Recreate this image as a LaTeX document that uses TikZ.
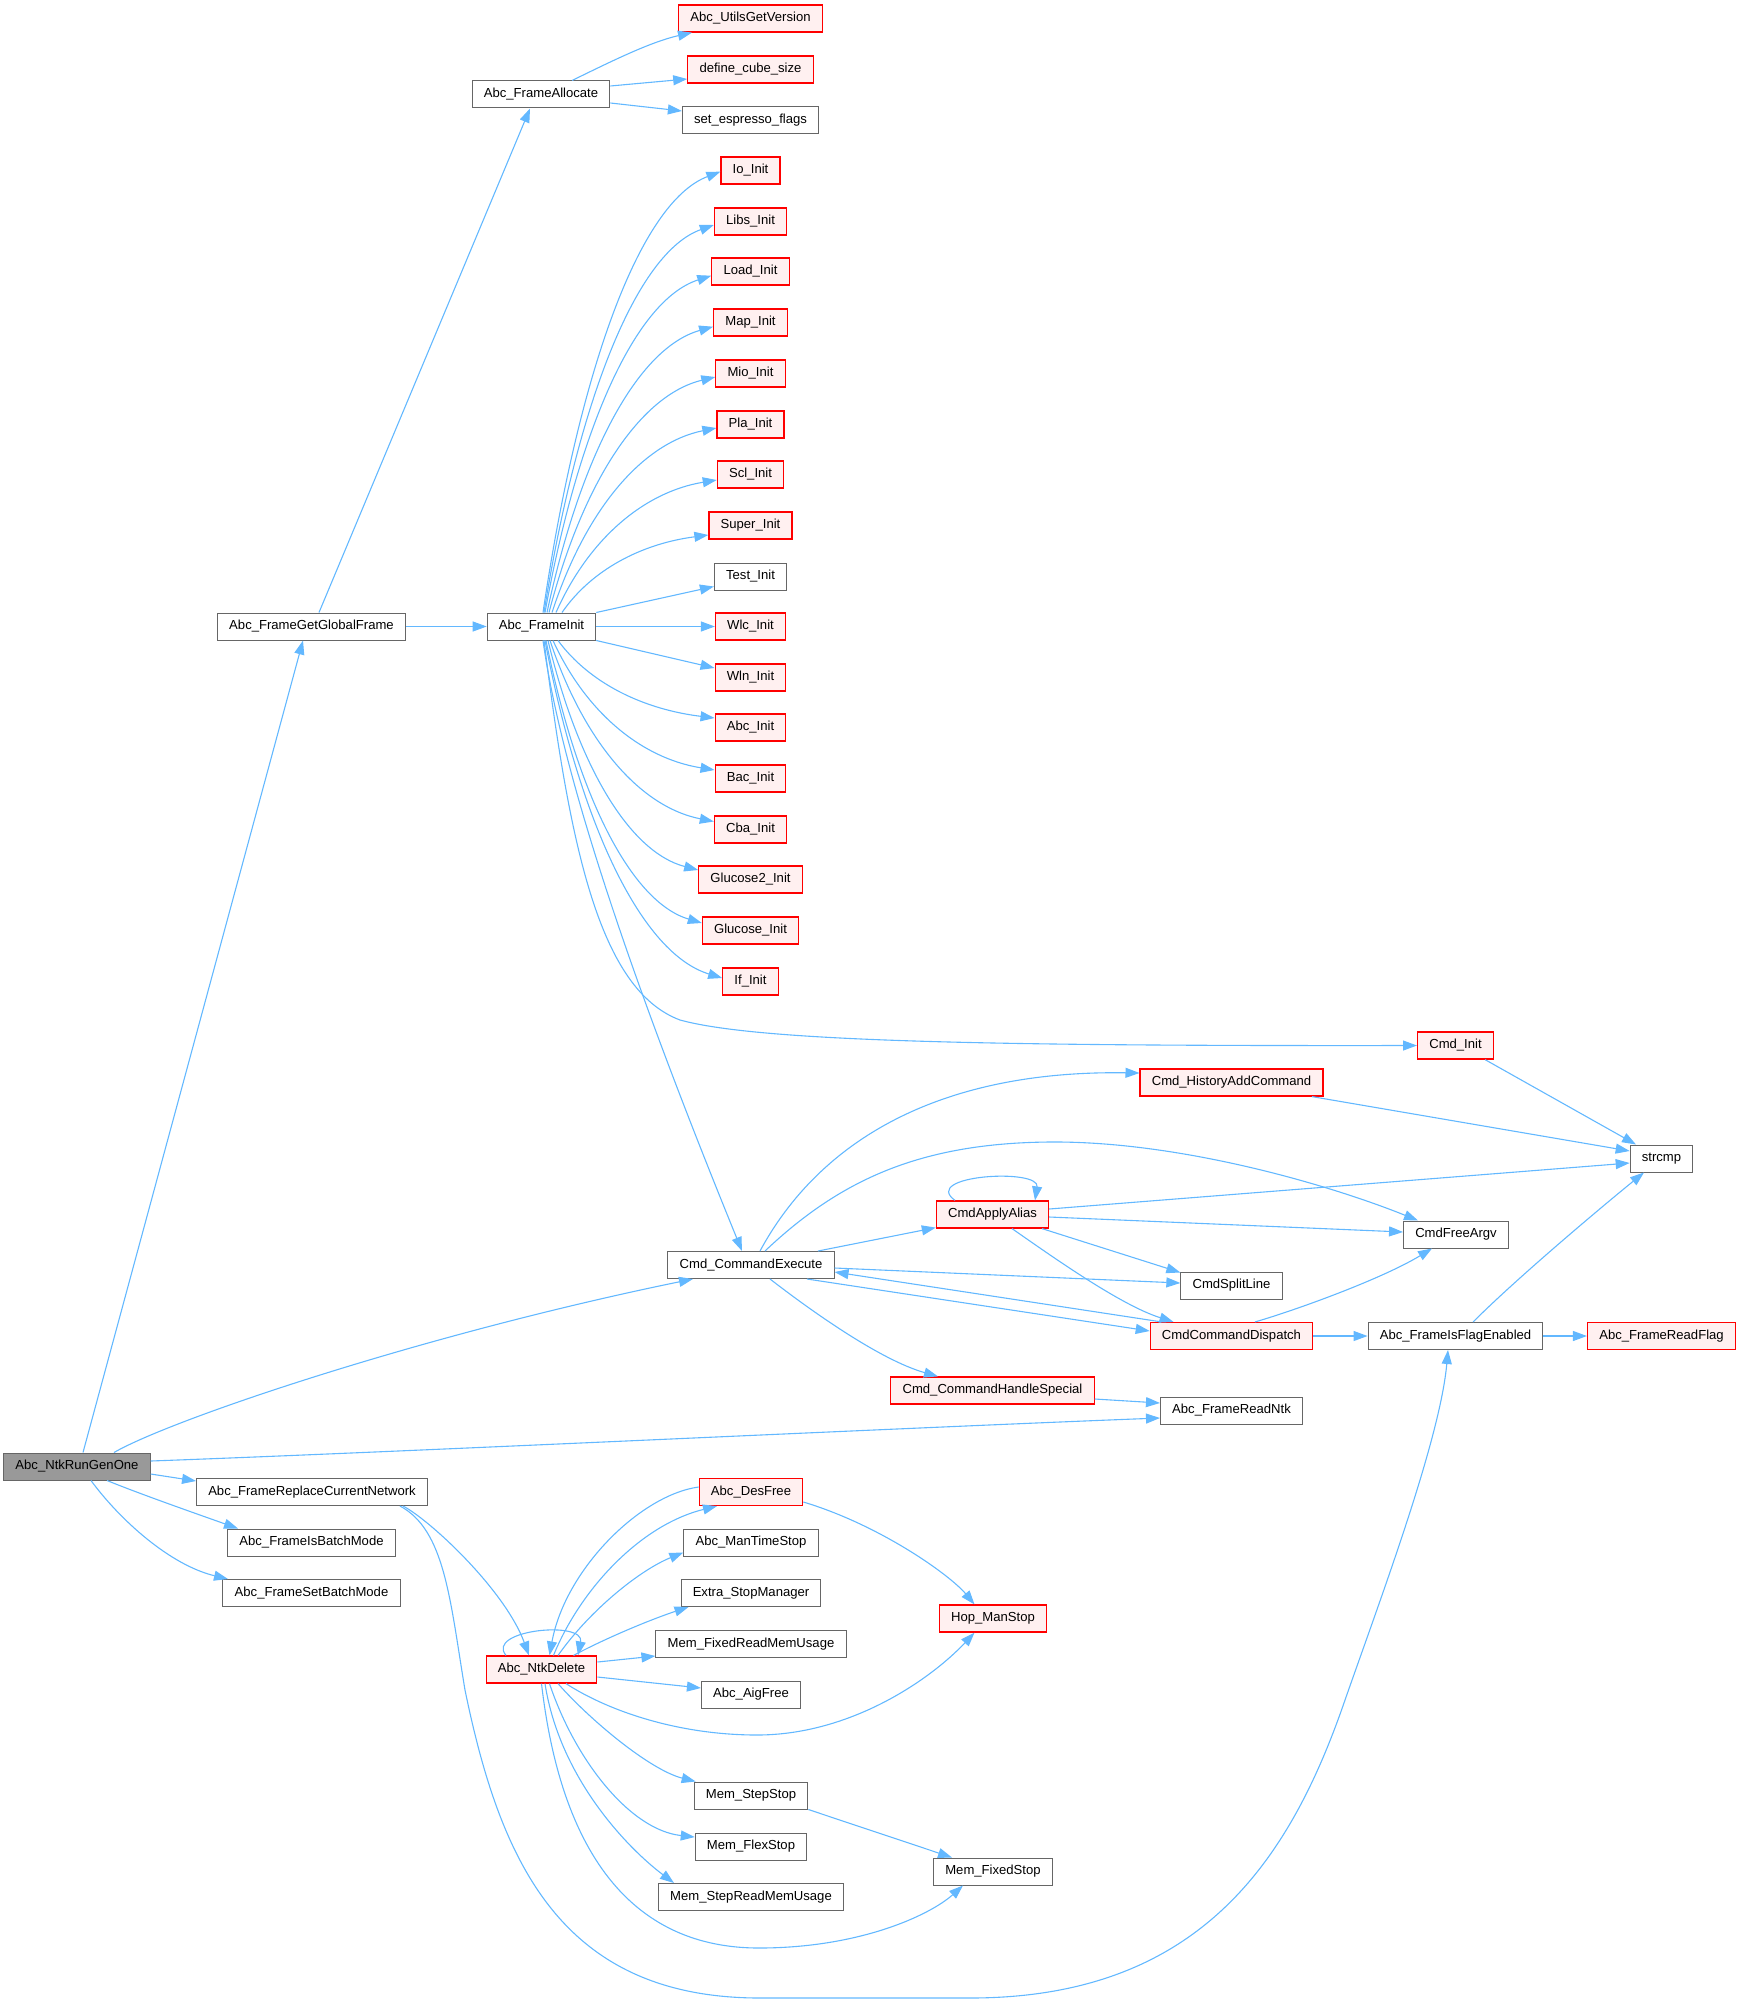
\documentclass[tikz,border=0pt]{standalone}
\usepackage{fontspec}
\setmainfont{Liberation Sans}
\usetikzlibrary{arrows.meta}
\definecolor{edgeblue}{HTML}{63B8FF}
\definecolor{nodegray}{HTML}{666666}
\definecolor{redfill}{HTML}{FFF0F0}
\definecolor{rootfill}{HTML}{999999}
\begin{document}
\begin{tikzpicture}[x=1pt,y=-1pt,
  fn/.style={draw=nodegray, fill=white, line width=1pt, minimum height=27pt, inner xsep=11.7pt, inner ysep=0pt, font=\fontsize{13.1}{15}\selectfont, text=black},
  rn/.style={fn, draw=red, line width=1.2pt, fill=redfill},
  rootnode/.style={fn, fill=rootfill},
  conn/.style={draw=edgeblue, line width=1.1pt, -{Triangle[length=14pt,width=10pt]}},
]
\useasboundingbox (0,0) rectangle (1739,2004);
% column 0
\node[rootnode] (r) at (77,1466.5) {Abc\_NtkRunGenOne};
% column 1
\node[fn] (ggf) at (311.5,626.5) {Abc\_FrameGetGlobalFrame};
\node[fn] (rcn) at (312,1492) {Abc\_FrameReplaceCurrentNetwork};
\node[fn] (ibm) at (311.5,1542.5) {Abc\_FrameIsBatchMode};
\node[fn] (sbm) at (311.5,1593) {Abc\_FrameSetBatchMode};
% column 2
\node[fn] (fa) at (541,94.5) {Abc\_FrameAllocate};
\node[fn] (fi) at (541.5,626.5) {Abc\_FrameInit};
\node[rn] (nd) at (541.5,1669.5) {Abc\_NtkDelete};
% column 3
\node[rn] (ugv) at (750.5,18.5) {Abc\_UtilsGetVersion};
\node[rn] (dcs) at (750.5,69.5) {define\_cube\_size};
\node[fn] (sef) at (750.5,120) {set\_espresso\_flags};
\node[rn] (io) at (750.5,170.5) {Io\_Init};
\node[rn] (libs) at (750.5,221.5) {Libs\_Init};
\node[rn] (load) at (750.5,271.5) {Load\_Init};
\node[rn] (map) at (750.5,322.5) {Map\_Init};
\node[rn] (mio) at (750.5,373.5) {Mio\_Init};
\node[rn] (pla) at (750.5,424.5) {Pla\_Init};
\node[rn] (scl) at (750.5,474.5) {Scl\_Init};
\node[rn] (super) at (750.5,525.5) {Super\_Init};
\node[fn] (test) at (750.5,576.5) {Test\_Init};
\node[rn] (wlc) at (750.5,626.5) {Wlc\_Init};
\node[rn] (wln) at (750.5,677.5) {Wln\_Init};
\node[rn] (abci) at (750.5,727.5) {Abc\_Init};
\node[rn] (bac) at (750.5,778.5) {Bac\_Init};
\node[rn] (cba) at (750.5,829.5) {Cba\_Init};
\node[rn] (glutwo) at (750.5,879.5) {Glucose2\_Init};
\node[rn] (glu) at (750.5,930.5) {Glucose\_Init};
\node[rn] (ifi) at (750.5,981.5) {If\_Init};
\node[fn] (ce) at (751,1265) {Cmd\_CommandExecute};
\node[rn] (df) at (751,1492) {Abc\_DesFree};
\node[fn] (mts) at (751,1542.5) {Abc\_ManTimeStop};
\node[fn] (esm) at (751,1593) {Extra\_StopManager};
\node[fn] (mfr) at (751,1644) {Mem\_FixedReadMemUsage};
\node[fn] (aig) at (751,1694.5) {Abc\_AigFree};
\node[fn] (mss) at (751,1795.5) {Mem\_StepStop};
\node[fn] (mfl) at (751,1846.5) {Mem\_FlexStop};
\node[fn] (msr) at (751,1897) {Mem\_StepReadMemUsage};
% column 4
\node[rn] (alias) at (992.5,1214.5) {CmdApplyAlias};
\node[rn] (chs) at (992.5,1390.5) {Cmd\_CommandHandleSpecial};
\node[rn] (hop) at (993,1618.5) {Hop\_ManStop};
\node[fn] (mfs) at (993,1871.5) {Mem\_FixedStop};
% column 5
\node[rn] (hac) at (1231.5,1082.5) {Cmd\_HistoryAddCommand};
\node[fn] (spl) at (1231.5,1285.5) {CmdSplitLine};
\node[rn] (dsp) at (1231.5,1336) {CmdCommandDispatch};
\node[fn] (rntk) at (1231.5,1410.5) {Abc\_FrameReadNtk};
% column 6
\node[rn] (cinit) at (1455.5,1045.5) {Cmd\_Init};
\node[fn] (fav) at (1456,1234.5) {CmdFreeArgv};
\node[fn] (ife) at (1455.5,1336) {Abc\_FrameIsFlagEnabled};
% column 7
\node[fn] (strcmp) at (1661.5,1158.5) {strcmp};
\node[rn] (rflag) at (1661.5,1336) {Abc\_FrameReadFlag};

% edges from root
\draw[conn] ([xshift=6]r.north) -- ([xshift=-8.5]ggf.south);
\draw[conn] ([xshift=37]r.north) .. controls (170,1420) and (420,1335) .. ([xshift=-58]ce.south);
\draw[conn] ([yshift=5.5]r.east) .. controls (400,1452) and (900,1428) .. ([yshift=-7.5]rntk.west);
\draw[conn] ([yshift=-7.5]r.east) -- ([yshift=11]rcn.west);
\draw[conn] ([xshift=30]r.south) .. controls (140,1494) and (200,1515) .. ([xshift=-73.5]ibm.north);
\draw[conn] ([xshift=14]r.south) .. controls (120,1520) and (170,1565) .. ([xshift=-83.5]sbm.north);
% ggf
\draw[conn] ([xshift=7.5]ggf.north) -- ([xshift=-11]fa.south);
\draw[conn] (ggf.east) -- (fi.west);
% fa
\draw[conn] ([xshift=31]fa.north) .. controls (610,62) and (650,42) .. ([xshift=-58.5]ugv.south);
\draw[conn] ([yshift=8.5]fa.east) -- ([yshift=-9.5]dcs.west);
\draw[conn] ([yshift=-8.5]fa.east) -- ([yshift=9]sef.west);
% fi upper
\draw[conn] ([xshift=1.5]fi.north) .. controls +(35.8,-242.7) and +(-80.6,30.5) .. ([yshift=-1.2]io.west);
\draw[conn] ([xshift=2.5]fi.north) .. controls +(34.2,-213.4) and +(-77,27.3) .. ([yshift=-3.5]libs.west);
\draw[conn] ([xshift=3.5]fi.north) .. controls +(33.6,-185.5) and +(-75.6,24.2) .. ([yshift=-4.2]load.west);
\draw[conn] ([xshift=5.5]fi.north) .. controls +(33.6,-157.5) and +(-75.6,21.2) .. ([yshift=-4.2]map.west);
\draw[conn] ([xshift=7.5]fi.north) .. controls +(33.6,-129.8) and +(-75.6,18.2) .. ([yshift=-3.5]mio.west);
\draw[conn] ([xshift=10.5]fi.north) .. controls +(33.2,-101.8) and +(-74.7,15.1) .. ([yshift=-3.5]pla.west);
\draw[conn] ([xshift=14.5]fi.north) .. controls +(32.4,-73.2) and +(-72.9,12) .. ([yshift=-5.5]scl.west);
\draw[conn] ([xshift=20.5]fi.north) .. controls +(29.6,-42.9) and +(-66.6,8.7) .. ([yshift=-9.5]super.west);
\draw[conn] (fi.north east) -- ([yshift=-10]test.west);
\draw[conn] (fi.east) -- (wlc.west);
\draw[conn] (fi.south east) -- ([yshift=9.5]wln.west);
% fi lower
\draw[conn] ([xshift=16.5]fi.south) .. controls +(31.6,42.9) and +(-71.1,-8.7) .. ([yshift=9.5]abci.west);
\draw[conn] ([xshift=11.5]fi.south) .. controls +(32.6,71.5) and +(-73.4,-11.8) .. ([yshift=8.5]bac.west);
\draw[conn] ([xshift=8.5]fi.south) .. controls +(33.2,99.8) and +(-74.7,-14.9) .. ([yshift=8]cba.west);
\draw[conn] ([xshift=6.5]fi.south) .. controls +(30.4,126.5) and +(-68.4,-17.8) .. ([yshift=9.5]glutwo.west);
\draw[conn] ([xshift=4.5]fi.south) .. controls +(31.4,155.7) and +(-70.7,-21) .. ([yshift=7.5]glu.west);
\draw[conn] ([xshift=3.5]fi.south) .. controls +(35.6,185.9) and +(-80.1,-24.3) .. ([yshift=3.5]ifi.west);
\draw[conn] ([xshift=2.5]fi.south) .. controls (570,850) and (600,990) .. (680,1020) .. controls (760,1042) and (1000,1046) .. (cinit.west);
\draw[conn] ([xshift=1.5]fi.south) .. controls (565,800) and (660,1050) .. ([xshift=-9]ce.north);
% ce
\draw[conn] ([xshift=9]ce.north) .. controls (820,1140) and (940,1070) .. ([yshift=9.5]hac.west);
\draw[conn] ([xshift=14]ce.north) .. controls (840,1180) and (920,1143) .. (1050,1142) .. controls (1180,1141) and (1330,1185) .. ([xshift=-38]fav.north);
\draw[conn] ([xshift=67]ce.north) -- ([yshift=1]alias.south west);
\draw[conn] ([yshift=-3]ce.east) -- ([yshift=2.5]spl.west);
\draw[conn] ([xshift=-70]dsp.north) -- ([yshift=-7]ce.east);
\draw[conn] ([xshift=56]ce.south) -- ([yshift=5]dsp.west);
\draw[conn] ([xshift=19]ce.south) .. controls (810,1310) and (880,1360) .. ([xshift=-54.5]chs.north);
% alias
\draw[conn] ([xshift=-37.5]alias.north) .. controls (920,1175) and (1040,1168) .. ([xshift=42.5]alias.north);
\draw[conn] ([yshift=5.5]alias.east) -- ([yshift=-4.5]strcmp.west);
\draw[conn] ([yshift=-2.5]alias.east) -- ([yshift=2.5]fav.west);
\draw[conn] ([xshift=49.5]alias.south) -- ([yshift=-1]spl.north west);
\draw[conn] ([xshift=19.5]alias.south) .. controls (1050,1255) and (1120,1305) .. ([xshift=-58]dsp.north);
% to strcmp
\draw[conn] ([xshift=80.5]hac.south) -- ([yshift=7.5]strcmp.west);
\draw[conn] ([xshift=29.5]cinit.south) -- ([xshift=-25.5]strcmp.north);
\draw[conn] ([xshift=17.5]ife.north) .. controls (1520,1275) and (1610,1200) .. ([xshift=-17.5]strcmp.south);
% dsp
\draw[conn] ([xshift=23.5]dsp.north) .. controls (1290,1312) and (1380,1280) .. ([xshift=-24]fav.south);
\draw[conn] (dsp.east) -- (ife.west);
\draw[conn] (ife.east) -- (rflag.west);
\draw[conn] ([yshift=-8.5]chs.east) -- ([yshift=7.5]rntk.west);
% rcn
\draw[conn] ([xshift=91]rcn.south) .. controls (430,1520) and (505,1590) .. ([xshift=-12.5]nd.north);
\draw[conn] ([xshift=88]rcn.south) .. controls (445,1530) and (450,1600) .. (465,1690) .. controls (500,1860) and (560,1998) .. (760,1998) -- (970,1998) .. controls (1200,1998) and (1290,1860) .. (1345,1700) .. controls (1380,1600) and (1440,1440) .. ([xshift=-7.5]ife.south);
% nd
\draw[conn] ([xshift=-35.5]nd.north) .. controls (485,1630) and (585,1620) .. ([xshift=36.5]nd.north);
\draw[conn] ([yshift=5]df.west) .. controls (640,1495) and (565,1570) .. ([xshift=8]nd.north);
\draw[conn] ([xshift=12]nd.north) .. controls (580,1590) and (640,1525) .. ([xshift=-34]df.south);
\draw[conn] ([xshift=16.5]nd.north) .. controls (590,1610) and (640,1570) .. ([yshift=-10]mts.west);
\draw[conn] ([xshift=32]nd.north) .. controls (610,1636) and (655,1618) .. ([xshift=8]esm.south west);
\draw[conn] ([yshift=7.5]nd.east) -- ([yshift=-12]mfr.west);
\draw[conn] ([yshift=-7.5]nd.east) -- ([yshift=6.5]aig.west);
\draw[conn] ([xshift=24.5]nd.south) .. controls (610,1712) and (680,1735) .. (757,1735) .. controls (850,1735) and (930,1680) .. ([xshift=-18.5]hop.south);
\draw[conn] ([yshift=-10]df.east) .. controls (880,1525) and (950,1575) .. ([xshift=-18.5]hop.north);
\draw[conn] ([xshift=16.5]nd.south) .. controls (590,1720) and (650,1770) .. ([xshift=2]mss.north west);
\draw[conn] ([xshift=8]nd.south) .. controls (575,1760) and (630,1830) .. ([yshift=9.5]mfl.west);
\draw[conn] ([xshift=3.5]nd.south) .. controls (560,1780) and (630,1850) .. ([xshift=-77]msr.north);
\draw[conn] (nd.south) .. controls (555,1800) and (600,1948) .. (759,1948) .. controls (860,1948) and (930,1915) .. ([xshift=-30]mfs.south);
\draw[conn] (mss.south east) -- ([xshift=-41]mfs.north);
\end{tikzpicture}
\end{document}
